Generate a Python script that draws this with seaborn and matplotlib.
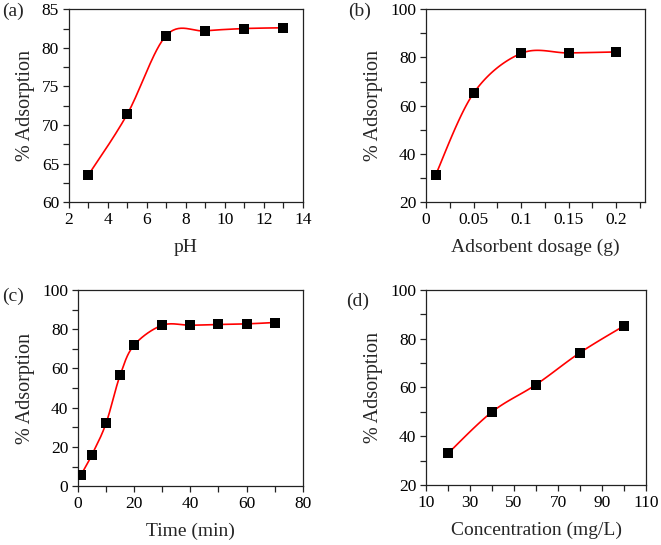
import numpy as np
import pandas as pd
import matplotlib.pyplot as plt
import seaborn as sns
from matplotlib.ticker import MultipleLocator, FixedLocator

# data
ph = [3, 5, 7, 9, 11, 13]
ph_ads = [63.5, 71.4, 81.6, 82.2, 82.5, 82.6]

dose = [0.01, 0.05, 0.1, 0.15, 0.2]
dose_ads = [31.2, 65.2, 81.7, 81.9, 82.3]

time_min = [1, 5, 10, 15, 20, 30, 40, 50, 60, 70]
time_ads = [5.6, 16.1, 32.1, 56.6, 71.9, 82.0, 82.0, 82.4, 82.7, 83.4]

conc = [20, 40, 60, 80, 100]
conc_ads = [33.0, 50.0, 61.2, 74.3, 85.3]

sns.set_theme(style="ticks")
plt.rcParams["font.family"] = ["Liberation Serif", "DejaVu Serif"]


def smooth(x, y, xr, yr, n=30):
    # excel-like smoothed line: bezier segments with catmull-rom control points,
    # worked out in axis-fraction space so both axes weigh the same
    px = (np.asarray(x, float) - xr[0]) / (xr[1] - xr[0])
    py = (np.asarray(y, float) - yr[0]) / (yr[1] - yr[0])
    P = np.column_stack([px, py])
    P = np.vstack([P[0], P, P[-1]])
    t = np.linspace(0, 1, n)[:, None]
    out = []
    for i in range(1, len(P) - 2):
        p0, p3 = P[i], P[i + 1]
        c1 = p0 + (P[i + 1] - P[i - 1]) / 6
        c2 = p3 - (P[i + 2] - P[i]) / 6
        seg = ((1 - t) ** 3) * p0 + 3 * ((1 - t) ** 2) * t * c1 + 3 * (1 - t) * t ** 2 * c2 + t ** 3 * p3
        out.append(seg)
    s = np.vstack(out)
    return s[:, 0] * (xr[1] - xr[0]) + xr[0], s[:, 1] * (yr[1] - yr[0]) + yr[0]


fig = plt.figure(figsize=(6.61, 5.45), dpi=100)

panels = [
    dict(x=ph, y=ph_ads, rect=[0.104, 0.629, 0.354, 0.354], xlim=(2, 14), ylim=(60, 85),
         xt=np.arange(2, 15, 2), xm=np.arange(3, 14, 2), ymaj=5, ymin=2.5,
         xlabel="pH", tag="(a)", tagpos=(0.003, 0.995)),
    dict(x=dose, y=dose_ads, rect=[0.6445, 0.629, 0.331, 0.354], xlim=(0, 0.23), ylim=(20, 100),
         xt=[0, 0.05, 0.1, 0.15, 0.2], xm=[0.025, 0.075, 0.125, 0.175, 0.225], ymaj=20, ymin=10,
         xlabel="Adsorbent dosage (g)", tag="(b)", tagpos=(0.526, 0.995)),
    dict(x=time_min, y=time_ads, rect=[0.118, 0.108, 0.340, 0.360], xlim=(0, 80), ylim=(0, 100),
         xt=np.arange(0, 81, 20), xm=np.arange(10, 80, 20), ymaj=20, ymin=10,
         xlabel="Time (min)", tag="(c)", tagpos=(0.003, 0.473)),
    dict(x=conc, y=conc_ads, rect=[0.6445, 0.110, 0.333, 0.358], xlim=(10, 110), ylim=(20, 100),
         xt=np.arange(10, 111, 20), xm=np.arange(20, 101, 20), ymaj=20, ymin=10,
         xlabel="Concentration (mg/L)", tag="(d)", tagpos=(0.524, 0.463)),
]

for p in panels:
    ax = fig.add_axes(p["rect"])
    sx, sy = smooth(p["x"], p["y"], p["xlim"], p["ylim"])
    ax.plot(sx, sy, color="#ff0000", lw=1.2, zorder=2)
    df = pd.DataFrame({"x": p["x"], "y": p["y"]})
    sns.scatterplot(data=df, x="x", y="y", ax=ax, marker="s", s=60, color="black",
                    edgecolor="black", linewidth=0, zorder=3)
    ax.set_xlim(p["xlim"])
    ax.set_ylim(p["ylim"])
    ax.xaxis.set_major_locator(FixedLocator(p["xt"]))
    ax.xaxis.set_minor_locator(FixedLocator(p["xm"]))
    ax.yaxis.set_major_locator(MultipleLocator(p["ymaj"]))
    ax.yaxis.set_minor_locator(MultipleLocator(p["ymin"]))
    ax.set_xticklabels([f"{v:g}" for v in p["xt"]])
    ax.tick_params(which="both", direction="out", length=4, width=0.9, colors="#222222",
                   labelsize=12.5, labelcolor="black", pad=3)
    for sp in ax.spines.values():
        sp.set_visible(True)
        sp.set_color("#222222")
        sp.set_linewidth(0.9)
    ax.set_xlabel(p["xlabel"], fontsize=14, labelpad=8)
    ax.set_ylabel("% Adsorption", fontsize=14.5, labelpad=5)
    fig.text(p["tagpos"][0], p["tagpos"][1], p["tag"], fontsize=14, va="top", ha="left")

fig.savefig("out.png", dpi=100)
